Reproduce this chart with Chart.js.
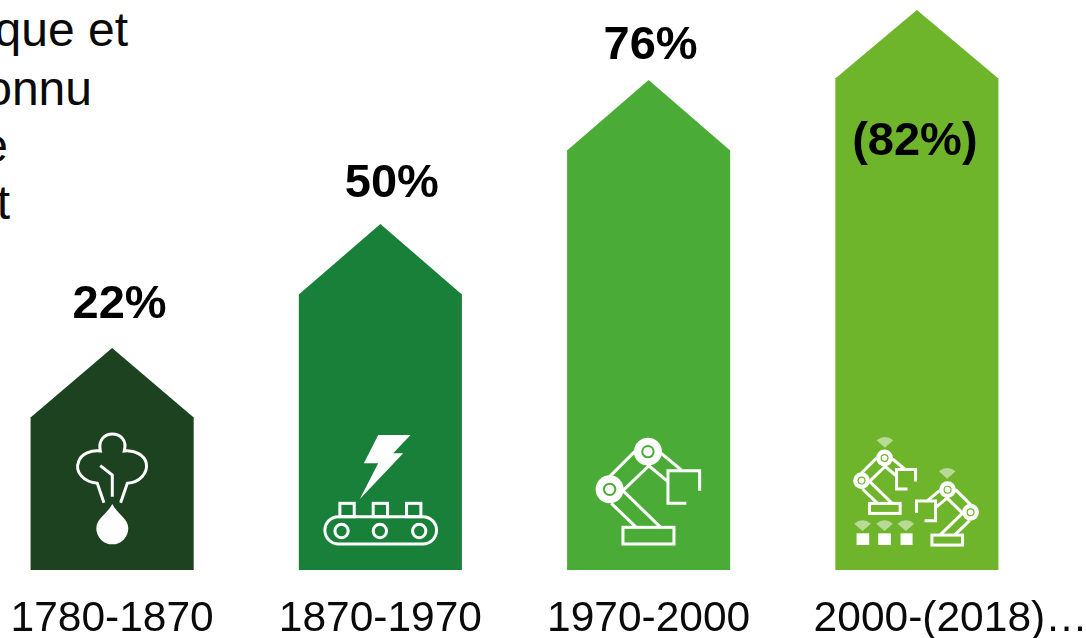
<!DOCTYPE html>
<html>
<head>
<meta charset="utf-8">
<script src="https://cdn.jsdelivr.net/npm/chart.js@4"></script>
<style>
  html, body { margin: 0; padding: 0; background: #fff; overflow: hidden; width: 1086px; height: 638px; }
  #chart { position: absolute; left: -22px; top: 0; }
  .txt { position: absolute; font: 48px/58px "Liberation Sans", Arial, sans-serif; color: #0a0a0a; white-space: nowrap; }
</style>
</head>
<body>
<span class="txt" style="right:958px;top:1px">que et</span>
<span class="txt" style="right:994px;top:60px">onnu</span>
<span class="txt" style="right:1078px;top:117px">e</span>
<span class="txt" style="right:1076px;top:174px">t</span>
<canvas id="chart" width="1108" height="638"></canvas>
<script>
const categories = ['1780-1870', '1870-1970', '1970-2000', '2000-(2018)…'];
const percentLabels = ['22%', '50%', '76%', '(82%)'];
const wallHeights = [153, 276, 420, 492];
const roofTops = [222, 346, 490, 560];
const labelLevels = [265, 386, 524, 428];
const barColors = ['#1c421f', '#19803a', '#4aac36', '#6eb52c'];

// small horizontal nudges of the % labels, the source is not centred
const labelShift = [7.5, 11.5, 2, -2];

function line(ctx, pts) {
  ctx.beginPath();
  pts.forEach(function (p, i) {
    if (i == 0) ctx.moveTo(p[0], p[1]); else ctx.lineTo(p[0], p[1]);
  });
  ctx.stroke();
}

function poly(ctx, pts) {
  ctx.beginPath();
  pts.forEach(function (p, i) {
    if (i == 0) ctx.moveTo(p[0], p[1]); else ctx.lineTo(p[0], p[1]);
  });
  ctx.closePath();
  ctx.fill();
}

function disc(ctx, x, y, r) {
  ctx.beginPath();
  ctx.arc(x, y, r, 0, Math.PI * 2);
  ctx.fill();
}

function ring(ctx, x, y, r) {
  ctx.beginPath();
  ctx.arc(x, y, r, 0, Math.PI * 2);
  ctx.stroke();
}

// icons are sketched at 3x, origin at the top left of the icon box
function iconTree(ctx) {
  ctx.lineWidth = 9;
  ctx.beginPath();
  ctx.moveTo(133, 248);
  ctx.lineTo(113, 190);
  ctx.bezierCurveTo(70, 185, 45, 155, 57, 125);
  ctx.bezierCurveTo(65, 100, 95, 90, 122, 93);
  ctx.bezierCurveTo(115, 60, 135, 42, 158, 42);
  ctx.bezierCurveTo(182, 42, 203, 60, 194, 93);
  ctx.bezierCurveTo(225, 90, 255, 105, 260, 130);
  ctx.bezierCurveTo(265, 160, 240, 188, 203, 190);
  ctx.lineTo(183, 248);
  ctx.stroke();
  line(ctx, [[158, 230], [158, 165], [122, 137]]);
  ctx.beginPath();
  ctx.moveTo(158, 252);
  ctx.bezierCurveTo(145, 280, 110, 295, 110, 325);
  ctx.arc(158, 325, 48, Math.PI, 0, true);
  ctx.bezierCurveTo(206, 295, 171, 280, 158, 252);
  ctx.fill();
}

function iconBelt(ctx, color) {
  poly(ctx, [[205, 45], [302, 45], [250, 100], [280, 100], [150, 237], [205, 130], [162, 130]]);
  ctx.lineWidth = 9;
  ctx.beginPath();
  ctx.roundRect(45, 290, 335, 82, 41);
  ctx.stroke();
  [95, 210, 328].forEach(function (x) { ring(ctx, x, 333, 20); });
  [90, 190, 290].forEach(function (x) {
    ctx.strokeRect(x, 250, 43, 40);
  });
}

function robot(ctx, color) {
  line(ctx, [[90, 170], [165, 95]]);
  line(ctx, [[130, 212], [210, 135]]);
  line(ctx, [[245, 100], [305, 150]]);
  line(ctx, [[205, 135], [265, 185]]);
  line(ctx, [[95, 250], [170, 322]]);
  line(ctx, [[130, 212], [243, 322]]);
  ctx.strokeRect(130, 322, 153, 50);
  line(ctx, [[320, 250], [265, 250], [265, 152], [360, 152], [360, 212]]);
  [[90, 208], [205, 95]].forEach(function (w) {
    ctx.fillStyle = '#fff';
    disc(ctx, w[0], w[1], 42);
    ctx.fillStyle = color;
    disc(ctx, w[0], w[1], 20);
    ctx.fillStyle = '#fff';
    disc(ctx, w[0], w[1], 14);
  });
}

function wifi(ctx, x, y) {
  ctx.save();
  ctx.fillStyle = 'rgba(255,255,255,0.5)';
  ctx.beginPath();
  ctx.moveTo(x, y + 18);
  ctx.lineTo(x - 25, y - 4);
  ctx.quadraticCurveTo(x, y - 24, x + 25, y - 4);
  ctx.closePath();
  ctx.fill();
  ctx.restore();
}

function iconRobot(ctx, color) {
  ctx.lineWidth = 9;
  robot(ctx, color);
}

function iconRobots(ctx, color) {
  ctx.save();
  ctx.transform(0.6, 0, 0, 0.6, 11, 42);
  ctx.lineWidth = 15;
  robot(ctx, color);
  ctx.restore();
  ctx.save();
  ctx.transform(-0.6, 0, 0, 0.6, 446, 137);
  ctx.lineWidth = 15;
  robot(ctx, color);
  ctx.restore();
  ctx.fillStyle = '#fff';
  ctx.fillRect(50, 325, 38, 35);
  ctx.fillRect(115, 325, 38, 35);
  ctx.fillRect(182, 325, 36, 35);
  wifi(ctx, 135, 50);
  wifi(ctx, 322, 143);
  wifi(ctx, 68, 300);
  wifi(ctx, 134, 300);
  wifi(ctx, 198, 300);
}

// [draw function, box left relative to bar centre, box top relative to bar base]
const icons = [
  [iconTree, -52.5, -150],
  [iconBelt, -70.5, -150],
  [iconRobot, -69, -150],
  [iconRobots, -77, -145]
];

const housePlugin = {
  id: 'house',
  afterDatasetsDraw: function (chart) {
    const ctx = chart.ctx;
    const y = chart.scales.y;
    chart.getDatasetMeta(0).data.forEach(function (bar, i) {
      const half = bar.width / 2;
      // pointed roof on top of the bar
      ctx.fillStyle = barColors[i];
      ctx.beginPath();
      ctx.moveTo(bar.x - half, bar.y + 0.5);
      ctx.lineTo(bar.x, y.getPixelForValue(roofTops[i]));
      ctx.lineTo(bar.x + half, bar.y + 0.5);
      ctx.closePath();
      ctx.fill();

      ctx.save();
      ctx.translate(bar.x + icons[i][1], bar.base + icons[i][2]);
      ctx.scale(1 / 3, 1 / 3);
      ctx.fillStyle = '#fff';
      ctx.strokeStyle = '#fff';
      icons[i][0](ctx, barColors[i]);
      ctx.restore();

      ctx.fillStyle = '#000';
      ctx.font = 'bold 47px "Liberation Sans", Arial, sans-serif';
      ctx.textAlign = 'center';
      ctx.textBaseline = 'middle';
      ctx.fillText(percentLabels[i], bar.x + labelShift[i], y.getPixelForValue(labelLevels[i]));
    });
  }
};

document.addEventListener("DOMContentLoaded", function () {
  new Chart(document.getElementById('chart'), {
    type: 'bar',
    plugins: [housePlugin],
    data: {
      labels: categories,
      datasets: [
        {
          label: 'Part',
          data: wallHeights,
          backgroundColor: barColors,
          barPercentage: 0.608,
          categoryPercentage: 1
        }
      ]
    },
    options: {
      responsive: false,
      animation: false,
      layout: { padding: { left: 0, right: 35, top: 0, bottom: 0 } },
      plugins: {
        legend: { display: false },
        tooltip: { enabled: false },
        title: { display: false }
      },
      scales: {
        x: {
          grid: { display: false, drawTicks: false },
          border: { display: false },
          afterFit: function (scale) {
            scale.height = 68;
            scale.paddingLeft = 0;
            scale.paddingRight = 0;
          },
          ticks: {
            color: '#0a0a0a',
            padding: 24,
            autoSkip: false,
            maxRotation: 0,
            font: { family: '"Liberation Sans", Arial, sans-serif', size: 42.5 },
            // the last label sits to the right of its bar in the source
            callback: function (value, index) {
              const label = this.getLabelForValue(value);
              return index == 3 ? '\u00a0\u00a0\u00a0\u00a0\u00a0\u2009' + label : label;
            }
          }
        },
        y: {
          display: false,
          min: 0,
          max: 570
        }
      }
    }
  });
});
</script>
</body>
</html>
